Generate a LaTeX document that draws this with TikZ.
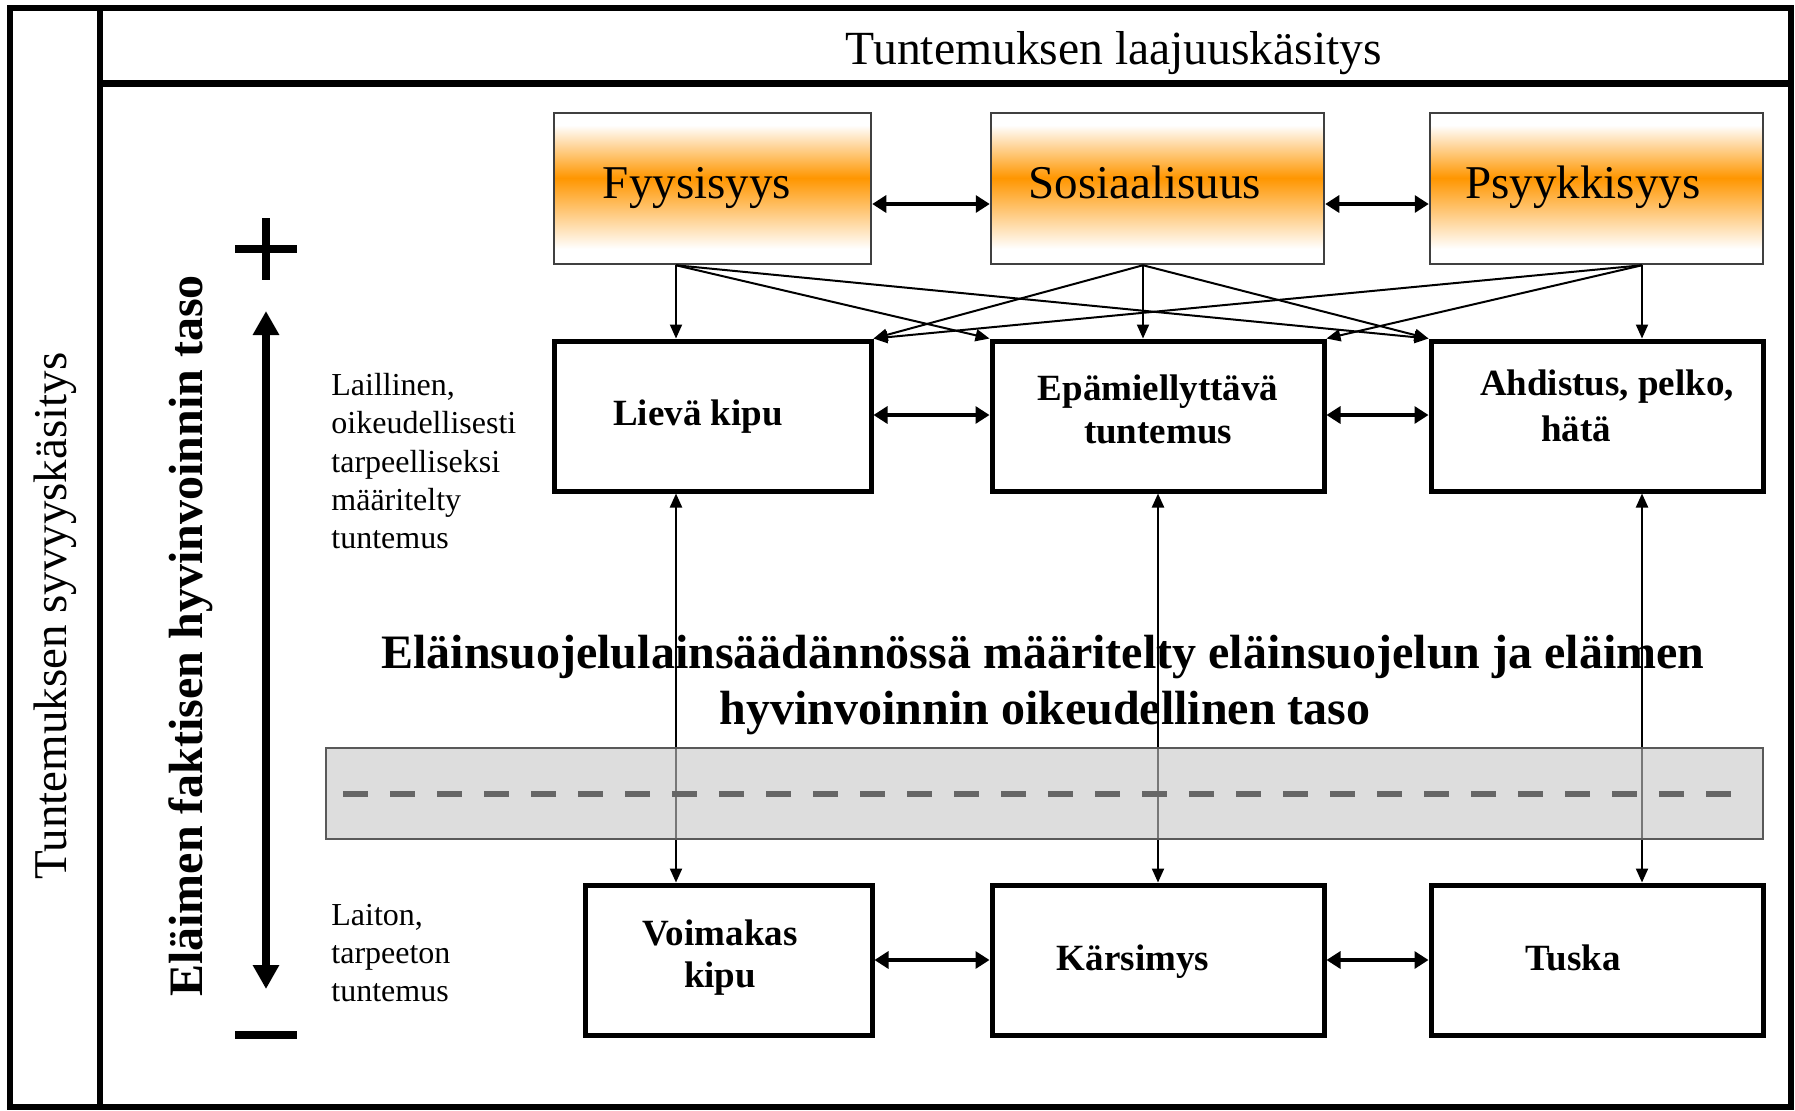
\documentclass[tikz,border=0pt]{standalone}
\usepackage{fontspec}
\setmainfont{Liberation Serif}
\usetikzlibrary{arrows.meta}
\definecolor{orng}{RGB}{255,150,0}
\definecolor{bandgray}{RGB}{199,199,199}
\definecolor{dashgray}{RGB}{102,102,102}
\pgfdeclareverticalshading{orangeband}{100bp}{color(0bp)=(white); color(30bp)=(white); color(53.5bp)=(orng); color(71bp)=(white); color(100bp)=(white)}
\begin{document}
\begin{tikzpicture}[x=0.5pt,y=-0.5pt,
  topbox/.style={draw=black!75, line width=1.25pt, shading=orangeband, minimum height=75.5pt, inner sep=0pt},
  midbox/.style={draw=black, line width=2.5pt, minimum height=75pt, inner sep=0pt},
  toplabel/.style={anchor=base, inner sep=0pt, font=\fontsize{23.5pt}{28pt}\selectfont},
  boxlabel/.style={anchor=base, inner sep=0pt, font=\fontsize{18.5pt}{22pt}\selectfont\bfseries},
  sidelabel/.style={anchor=base west, inner sep=0pt, font=\fontsize{16pt}{19pt}\selectfont},
  biglabel/.style={anchor=base, inner sep=0pt, font=\fontsize{24pt}{28pt}\selectfont\bfseries},
  conn/.style={line width=1pt, -{Triangle[length=7pt,width=6pt]}},
  dconn/.style={line width=1.1pt, {Triangle[length=7pt,width=6pt]}-{Triangle[length=7pt,width=6pt]}},
  hconn/.style={line width=1.6pt, {Triangle[length=7pt,width=8.5pt]}-{Triangle[length=7pt,width=8.5pt]}},
  bigarrow/.style={line width=4.3pt, {Triangle[length=12pt,width=12.5pt]}-{Triangle[length=12pt,width=12.5pt]}},
  signbar/.style={line width=4.3pt, line cap=butt}
]
\useasboundingbox (0,0) rectangle (1795,1110);

% frame
\draw[line width=3pt] (10,8) rectangle (1791,1107);
\coordinate (divtop) at (100,8);
\coordinate (divbot) at (100,1107);
\coordinate (titl) at (100,83);
\coordinate (titr) at (1791,83);
\draw[line width=3pt] (divtop) -- (divbot);
\draw[line width=3.5pt] (titl) -- (titr);

% headings
\node[anchor=base, inner sep=0pt, font=\fontsize{23.8pt}{28pt}\selectfont] (title) at (1114,64) {Tuntemuksen laajuuskäsitys};
\node[anchor=base, inner sep=0pt, rotate=90, font=\fontsize{23.5pt}{28pt}\selectfont] (depth) at (66,616) {Tuntemuksen syvyyskäsitys};
\node[anchor=base, inner sep=0pt, rotate=90, font=\fontsize{24pt}{28pt}\selectfont\bfseries] (level) at (202,636) {Eläimen faktisen hyvinvoinnin taso};

% plus / minus and big arrow
\coordinate (pl) at (235,249); \coordinate (pr) at (297,249);
\coordinate (pt) at (266,218); \coordinate (pb) at (266,280);
\draw[signbar] (pl) -- (pr);
\draw[signbar] (pt) -- (pb);
\coordinate (ml) at (235,1035); \coordinate (mr) at (297,1035);
\draw[signbar, line width=4pt] (ml) -- (mr);
\coordinate (up) at (266,311); \coordinate (dn) at (266,989);
\draw[bigarrow] (up) -- (dn);

% side texts
\node[sidelabel] (s1) at (331,395) {Laillinen,};
\node[sidelabel] (s2) at (331,433) {oikeudellisesti};
\node[sidelabel] (s3) at (331,472) {tarpeelliseksi};
\node[sidelabel] (s4) at (331,510) {määritelty};
\node[sidelabel] (s5) at (331,548) {tuntemus};
\node[sidelabel] (t1) at (331,925) {Laiton,};
\node[sidelabel] (t2) at (331,963) {tarpeeton};
\node[sidelabel] (t3) at (331,1001) {tuntemus};

% big text
\node[biglabel] (big1) at (1043,668) {Eläinsuojelulainsäädännössä määritelty eläinsuojelun ja eläimen};
\node[biglabel] (big2) at (1045,724) {hyvinvoinnin oikeudellinen taso};

% top boxes
\node[topbox, minimum width=158.5pt] (F) at (712.5,188.5) {};
\node[topbox, minimum width=166.5pt] (S) at (1157.5,188.5) {};
\node[topbox, minimum width=166.5pt] (P) at (1596.5,188.5) {};
\node[toplabel] (tF) at (697,198) {Fyysisyys};
\node[toplabel] (tS) at (1145,198) {Sosiaalisuus};
\node[toplabel] (tP) at (1583,198) {Psyykkisyys};

% middle boxes
\node[midbox, minimum width=158.5pt] (L) at (712.5,416) {};
\node[midbox, minimum width=166pt] (E) at (1158,416) {};
\node[midbox, minimum width=166pt] (A) at (1597,416) {};
\node[boxlabel] (tL) at (698,425) {Lievä kipu};
\node[boxlabel] (tE1) at (1158,400) {Epämiellyttävä};
\node[boxlabel] (tE2) at (1158,443) {tuntemus};
\node[boxlabel] (tA1) at (1607,395) {Ahdistus, pelko,};
\node[boxlabel] (tA2) at (1576,441) {hätä};

% bottom boxes
\node[midbox, minimum width=143.5pt] (V) at (728.5,960) {};
\node[midbox, minimum width=166pt] (K) at (1158,960) {};
\node[midbox, minimum width=166pt] (T) at (1597,960) {};
\node[boxlabel] (tV1) at (720,945) {Voimakas};
\node[boxlabel] (tV2) at (720,987) {kipu};
\node[boxlabel] (tK) at (1133,970) {Kärsimys};
\node[boxlabel] (tT) at (1573,970) {Tuska};

% helper columns / rows
\coordinate (c1) at (676,0);
\coordinate (c2) at (1143,0);
\coordinate (c2b) at (1158,0);
\coordinate (c3) at (1642,0);
\coordinate (r1) at (0,204);
\coordinate (r2) at (0,415);
\coordinate (r3) at (0,960);

% top to middle
\draw[conn] (F.south -| c1) -- (L.north -| c1);
\draw[conn] (F.south -| c1) -- (E.north west);
\draw[conn] (F.south -| c1) -- (A.north west);
\draw[conn] (S.south -| c2) -- (L.north east);
\draw[conn] (S.south -| c2) -- (E.north -| c2);
\draw[conn] (S.south -| c2) -- (A.north west);
\draw[conn] (P.south -| c3) -- (L.north east);
\draw[conn] (P.south -| c3) -- (E.north east);
\draw[conn] (P.south -| c3) -- (A.north -| c3);

% horizontal
\draw[hconn] (F.east |- r1) -- (S.west |- r1);
\draw[hconn] (S.east |- r1) -- (P.west |- r1);
\draw[hconn] (L.east |- r2) -- (E.west |- r2);
\draw[hconn] (E.east |- r2) -- (A.west |- r2);
\draw[hconn] (V.east |- r3) -- (K.west |- r3);
\draw[hconn] (K.east |- r3) -- (T.west |- r3);

% vertical
\draw[dconn] (L.south -| c1) -- (V.north -| c1);
\draw[dconn] (E.south -| c2b) -- (K.north -| c2b);
\draw[dconn] (A.south -| c3) -- (T.north -| c3);

% band
\node[draw=black!65, line width=0.9pt, fill=bandgray, fill opacity=0.6, draw opacity=1, minimum width=718.5pt, minimum height=45.5pt, inner sep=0pt] (band) at (1044.5,793.5) {};
\coordinate (d1) at (343,794);
\coordinate (d2) at (1747,794);
\draw[dashgray, line width=3pt, dash pattern=on 12.5pt off 11pt] (d1) -- (d2);
\end{tikzpicture}
\end{document}
